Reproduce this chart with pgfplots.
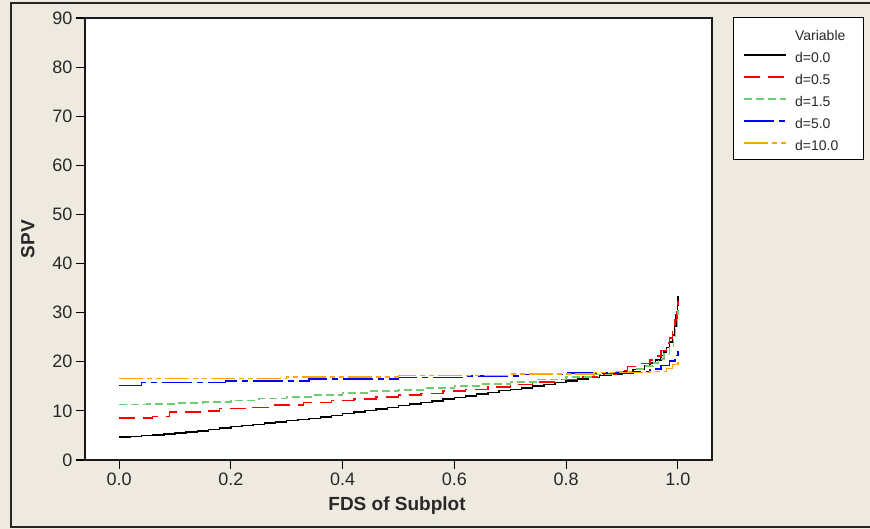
\documentclass[border=0pt]{standalone}
\usepackage{pgfplots}
\pgfplotsset{compat=1.18}
\usepackage{fontspec}
\setmainfont{Liberation Sans}

\definecolor{panel}{RGB}{238,234,224}
\definecolor{txt}{RGB}{40,40,40}
\definecolor{sgreen}{RGB}{110,205,110}
\definecolor{sorange}{RGB}{255,165,0}

% step-wise SPV profiles against the fraction of design space
\pgfplotstableread{
x y
0 4.7
0.02 4.8
0.04 5.0
0.06 5.1
0.08 5.3
0.10 5.5
0.12 5.7
0.14 5.9
0.16 6.2
0.18 6.5
0.20 6.8
0.22 7.0
0.24 7.2
0.26 7.5
0.28 7.7
0.30 8.0
0.32 8.2
0.34 8.5
0.36 8.8
0.38 9.1
0.40 9.5
0.42 9.8
0.44 10.1
0.46 10.4
0.48 10.7
0.50 11.1
0.52 11.4
0.54 11.7
0.56 12.0
0.58 12.4
0.60 12.7
0.62 13.0
0.64 13.4
0.66 13.7
0.68 14.1
0.70 14.4
0.72 14.7
0.74 15.1
0.76 15.4
0.78 15.8
0.80 16.1
0.82 16.5
0.84 16.8
0.86 17.2
0.88 17.5
0.90 17.9
0.92 18.4
0.94 19.1
0.95 19.7
0.96 20.4
0.97 21.3
0.975 22.0
0.98 22.9
0.985 24.0
0.99 25.5
0.994 27.3
0.997 29.5
0.999 31.5
1.0 33.3
}\dzero
\pgfplotstableread{
x y
0 8.6
0.06 8.9
0.09 9.8
0.15 10.0
0.18 10.5
0.24 10.7
0.27 11.2
0.33 11.7
0.38 12.1
0.42 12.4
0.46 12.8
0.50 13.2
0.54 13.5
0.58 14.0
0.62 14.4
0.66 14.9
0.70 15.4
0.74 15.9
0.78 16.4
0.82 16.9
0.86 17.5
0.89 18.2
0.91 19.0
0.93 19.6
0.95 20.4
0.96 21.2
0.97 22.3
0.98 23.8
0.985 24.8
0.99 26.2
0.995 28.5
0.998 30.5
1.0 32.3
}\dhalf
\pgfplotstableread{
x y
0 11.3
0.05 11.4
0.10 11.6
0.15 11.8
0.20 12.1
0.25 12.5
0.30 12.8
0.35 13.2
0.40 13.6
0.45 14.0
0.50 14.3
0.55 14.7
0.60 15.1
0.65 15.5
0.70 15.9
0.75 16.4
0.80 16.9
0.85 17.4
0.89 17.9
0.92 18.5
0.94 19.1
0.955 19.8
0.965 20.6
0.975 21.6
0.985 23.2
0.992 25.0
0.996 27.0
0.999 29.0
1.0 30.5
}\donefive
\pgfplotstableread{
x y
0 15.2
0.04 15.8
0.19 16.1
0.34 16.5
0.50 16.8
0.62 17.1
0.72 17.4
0.80 17.7
0.92 18.0
0.95 18.5
0.97 19.2
0.985 20.2
0.995 21.3
1.0 22.5
}\dfive
\pgfplotstableread{
x y
0 16.6
0.30 16.9
0.50 17.2
0.70 17.5
0.85 17.8
0.95 18.0
0.98 18.6
0.99 19.4
1.0 20.0
}\dten

\begin{document}
\begin{tikzpicture}[x=1pt,y=1pt]
\useasboundingbox (0,0) rectangle (870,529);
\fill[panel] (0,0) rectangle (870,529);
\draw[black!85, line width=2pt] (11,2) rectangle (885,526);
\begin{axis}[
  at={(85pt,69pt)}, anchor=south west,
  scale only axis, width=627pt, height=442pt,
  xmin=-0.061, xmax=1.061, ymin=0, ymax=90,
  xtick={0,0.2,0.4,0.6,0.8,1.0},
  ytick={0,10,...,90},
  xticklabel style={/pgf/number format/.cd, fixed, fixed zerofill, precision=1},
  /pgf/number format/assume math mode=true,
  tick align=outside, tick pos=left,
  major tick length=9pt,
  tick style={black, line width=1.1pt},
  axis line style={black!90, line width=1.4pt},
  axis background/.style={fill=white},
  ticklabel style={font=\fontsize{18}{20}\selectfont, text=txt},
  xlabel={\textbf{FDS of Subplot}},
  ylabel={\textbf{SPV}},
  label style={font=\fontsize{19}{21}\selectfont, text=txt},
  xlabel style={at={(axis description cs:0.4976,-0.104)}, anchor=center},
  ylabel style={at={(axis description cs:-0.091,0.5)}, anchor=center},
  legend style={at={(1.0335,1.002)}, anchor=north west,
    draw=black, line width=1.2pt, fill=white,
    inner xsep=10pt, inner ysep=4pt, column sep=6pt, row sep=5pt,
    font=\fontsize{14}{16}\selectfont, text=txt,
    nodes={inner sep=2pt, text height=10pt, text depth=3pt},
    cells={anchor=west}},
  legend image code/.code={\draw[#1] (0pt,4pt) -- (42pt,4pt);},
  every axis plot/.append style={line width=1.5pt, const plot mark left},
]
\addlegendimage{empty legend}
\addlegendentry[text height=17pt]{\makebox[56pt][l]{Variable}}
\addplot[black, solid] table {\dzero};
\addlegendentry{d=0.0}
\addplot[red, dash pattern=on 16pt off 8pt] table {\dhalf};
\addlegendentry{d=0.5}
\addplot[sgreen, dash pattern=on 8pt off 4pt] table {\donefive};
\addlegendentry{d=1.5}
\addplot[blue, dash pattern=on 30pt off 5pt on 6pt off 5pt] table {\dfive};
\addlegendentry{d=5.0}
\addplot[sorange, dash pattern=on 24pt off 4pt on 5pt off 4pt on 5pt off 4pt] table {\dten};
\addlegendentry{d=10.0}
\end{axis}
\end{tikzpicture}
\end{document}
